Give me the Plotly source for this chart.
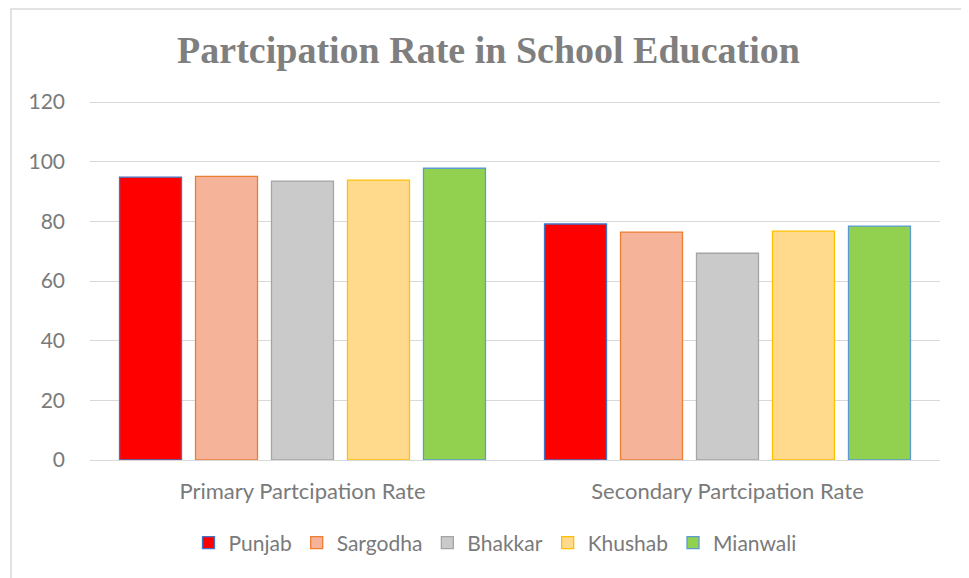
import plotly.graph_objs as go

# Data
categories = ['Primary Partcipation Rate', 'Secondary Partcipation Rate']
districts = ['Punjab', 'Sargodha', 'Bhakkar', 'Khushab', 'Mianwali']
punjab = [94.8, 79.1]
sargodha = [95.1, 76.4]
bhakkar = [93.5, 69.3]
khushab = [93.8, 76.7]
mianwali = [97.8, 78.4]
y_ticks = [0, 20, 40, 60, 80, 100, 120]

series = [punjab, sargodha, bhakkar, khushab, mianwali]
fills = ['#FF0000', '#F5B39A', '#CACACA', '#FFD98C', '#92D050']
borders = ['#4472C4', '#ED7D31', '#A5A5A5', '#FFC000', '#5B9BD5']

# page body has an 8px margin, so shift everything back by 8px
OFF = 8
W, H = 969 - OFF, 578 - OFF
# plot area runs a bit above the 120 gridline so that gridline gets drawn
L, R, T, B = 90 - OFF, 29, 87 - OFF, 118
pw, ph = W - L - R, H - T - B
y_top = 120 * ph / (460 - 102)

data = []
for name, vals, fc, lc in zip(districts, series, fills, borders):
    data.append(go.Bar(x=categories, y=vals, name=name,
                       marker={'color': fc, 'line': {'color': lc, 'width': 1.3}}))

txt = '#7A7A7A'
layout = go.Layout(
    width=W, height=H,
    margin={'l': L, 'r': R, 't': T, 'b': B},
    paper_bgcolor='white', plot_bgcolor='white',
    barmode='group', bargap=0.106, bargroupgap=0.184,
    title={'text': '<b>Partcipation Rate in School Education</b>',
           'font': {'family': 'Liberation Serif', 'size': 38, 'color': '#7F7F7F'},
           'x': 0.5, 'xanchor': 'center', 'y': 1 - (50 - OFF) / H, 'yanchor': 'middle'},
    font={'family': 'Lato', 'size': 20, 'color': txt},
    xaxis={'showgrid': False, 'showline': True, 'linecolor': '#D9D9D9', 'linewidth': 1,
           'ticks': '', 'ticklabelstandoff': 12, 'tickfont': {'size': 22, 'color': txt}},
    yaxis={'range': [0, y_top], 'tickvals': y_ticks, 'showgrid': True, 'gridcolor': '#D9D9D9',
           'gridwidth': 1, 'zeroline': False, 'showline': False, 'ticks': '',
           'ticklabelstandoff': 24, 'tickfont': {'size': 21, 'color': txt}},
    legend={'orientation': 'h', 'x': (495 - 90) / pw, 'xanchor': 'center', 'y': -(543 - 460) / ph,
            'yanchor': 'middle', 'font': {'size': 21, 'color': txt},
            'itemwidth': 30, 'tracegroupgap': 0},
    shapes=[{'type': 'rect', 'xref': 'paper', 'yref': 'paper',
             'x0': (11 - 90) / pw, 'x1': (990 - 90) / pw,
             'y0': -(600 - 460) / ph, 'y1': (460 - 9) / ph,
             'line': {'color': '#D9D9D9', 'width': 1.5}}],
)

fig = go.Figure(data=data, layout=layout)
fig.write_html("out.html")
